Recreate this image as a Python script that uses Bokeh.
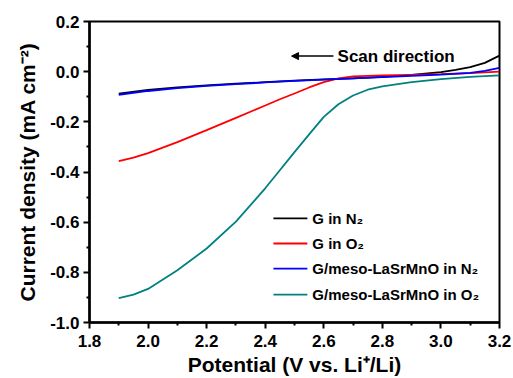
from bokeh.plotting import figure
from bokeh.models import Range1d, FixedTicker, Arrow, NormalHead, Label
from bokeh.embed import file_html
from bokeh.resources import INLINE
from bokeh.core.properties import value

# ---- data ----
x_gn2 = [1.9, 2.0, 2.1, 2.2, 2.3, 2.4, 2.5, 2.6, 2.7, 2.8, 2.9, 3.0, 3.05, 3.1, 3.15, 3.2]
y_gn2 = [-0.088, -0.073, -0.063, -0.055, -0.048, -0.042, -0.036, -0.031, -0.027, -0.021, -0.013, -0.002, 0.007, 0.018, 0.035, 0.064]

x_go2 = [1.9, 1.95, 2.0, 2.1, 2.2, 2.3, 2.4, 2.45, 2.5, 2.55, 2.6, 2.65, 2.7, 2.8, 2.9, 3.0, 3.1, 3.2]
y_go2 = [-0.357, -0.343, -0.325, -0.281, -0.233, -0.184, -0.135, -0.110, -0.087, -0.063, -0.042, -0.027, -0.019, -0.015, -0.013, -0.010, -0.006, 0.0]

x_mn2 = [1.9, 2.0, 2.1, 2.2, 2.3, 2.4, 2.5, 2.6, 2.7, 2.8, 2.9, 3.0, 3.1, 3.15, 3.2]
y_mn2 = [-0.092, -0.077, -0.066, -0.057, -0.050, -0.043, -0.037, -0.032, -0.027, -0.022, -0.017, -0.012, -0.005, 0.003, 0.015]

x_mo2 = [1.9, 1.95, 2.0, 2.1, 2.2, 2.3, 2.4, 2.45, 2.5, 2.55, 2.6, 2.65, 2.7, 2.75, 2.8, 2.9, 3.0, 3.1, 3.2]
y_mo2 = [-0.903, -0.889, -0.866, -0.792, -0.705, -0.598, -0.465, -0.393, -0.321, -0.250, -0.180, -0.130, -0.095, -0.072, -0.059, -0.042, -0.030, -0.021, -0.015]

series_names = ["G in N\u2082", "G in O\u2082", "G/meso-LaSrMnO in N\u2082", "G/meso-LaSrMnO in O\u2082"]
series_colors = ["#000000", "#FF0000", "#0000FF", "#008080"]

x_ticks = [1.8, 2.0, 2.2, 2.4, 2.6, 2.8, 3.0, 3.2]
y_ticks = [-1.0, -0.8, -0.6, -0.4, -0.2, 0.0, 0.2]

FONT = "Liberation Sans"

p = figure(frame_width=410, frame_height=301, output_backend="svg", toolbar_location=None,
           x_range=Range1d(1.8, 3.2), y_range=Range1d(-1.0, 0.2),
           min_border_left=89, min_border_right=14, min_border_top=21, min_border_bottom=56)
p.xgrid.visible = False
p.ygrid.visible = False
p.background_fill_color = "white"
p.border_fill_color = "white"
p.outline_line_color = "black"
p.outline_line_width = 2

for ax, ticks in ((p.xaxis, x_ticks), (p.yaxis, y_ticks)):
    ax.ticker = FixedTicker(ticks=ticks,
                            minor_ticks=[round(ticks[0] + (ticks[1]-ticks[0])*(i+0.5), 3) for i in range(len(ticks)-1)])
    ax.axis_line_width = 2.5
    ax.major_tick_line_width = 2
    ax.minor_tick_line_width = 2
    ax.major_tick_out = 6
    ax.major_tick_in = 0
    ax.minor_tick_out = 3
    ax.minor_tick_in = 0
    ax.major_label_text_font = FONT
    ax.major_label_text_font_style = "bold"
    ax.major_label_text_font_size = "17px"
    ax.major_label_text_color = "black"
    ax.axis_label_text_font = FONT
    ax.axis_label_text_font_style = "bold"
    ax.axis_label_text_font_size = "21px"
    ax.axis_label_text_color = "black"

p.xaxis.major_label_overrides = {t: f"{t:.1f}" for t in x_ticks}
p.yaxis.major_label_overrides = {t: f"{t:.1f}" for t in y_ticks}
p.xaxis.major_label_standoff = 6
p.yaxis.major_label_standoff = 4
p.xaxis.axis_label = "Potential (V vs. Li\u207a/Li)"
p.yaxis.axis_label = "Current density (mA cm\u207b\u00b2)"
p.xaxis.axis_label_standoff = 3
p.yaxis.axis_label_standoff = 8

xs_all = [x_gn2, x_go2, x_mn2, x_mo2]
ys_all = [y_gn2, y_go2, y_mn2, y_mo2]
for xs, ys, c in zip(xs_all, ys_all, series_colors):
    p.line(xs, ys, line_color=c, line_width=1.8)

# manual legend
leg_x0, leg_x1, leg_tx = 2.428, 2.544, 2.561
leg_y = [-0.585, -0.685, -0.785, -0.889]
for name, c, yy in zip(series_names, series_colors, leg_y):
    p.line([leg_x0, leg_x1], [yy, yy], line_color=c, line_width=1.8)
p.text(x=[leg_tx]*4, y=leg_y, text=series_names, text_font=value(FONT),
       text_font_style="bold", text_font_size="15px", text_baseline="middle",
       text_align="left", text_color="black")

# scan direction annotation
p.add_layout(Arrow(end=NormalHead(size=7, fill_color="black", line_color="black"),
                   x_start=2.633, y_start=0.062, x_end=2.49, y_end=0.062,
                   line_width=1.5, line_color="black"))
p.add_layout(Label(x=2.647, y=0.062, text="Scan direction", text_font=FONT,
                   text_font_style="bold", text_font_size="17px", text_baseline="middle",
                   text_color="black"))

open("out.html", "w").write(file_html(p, INLINE))
